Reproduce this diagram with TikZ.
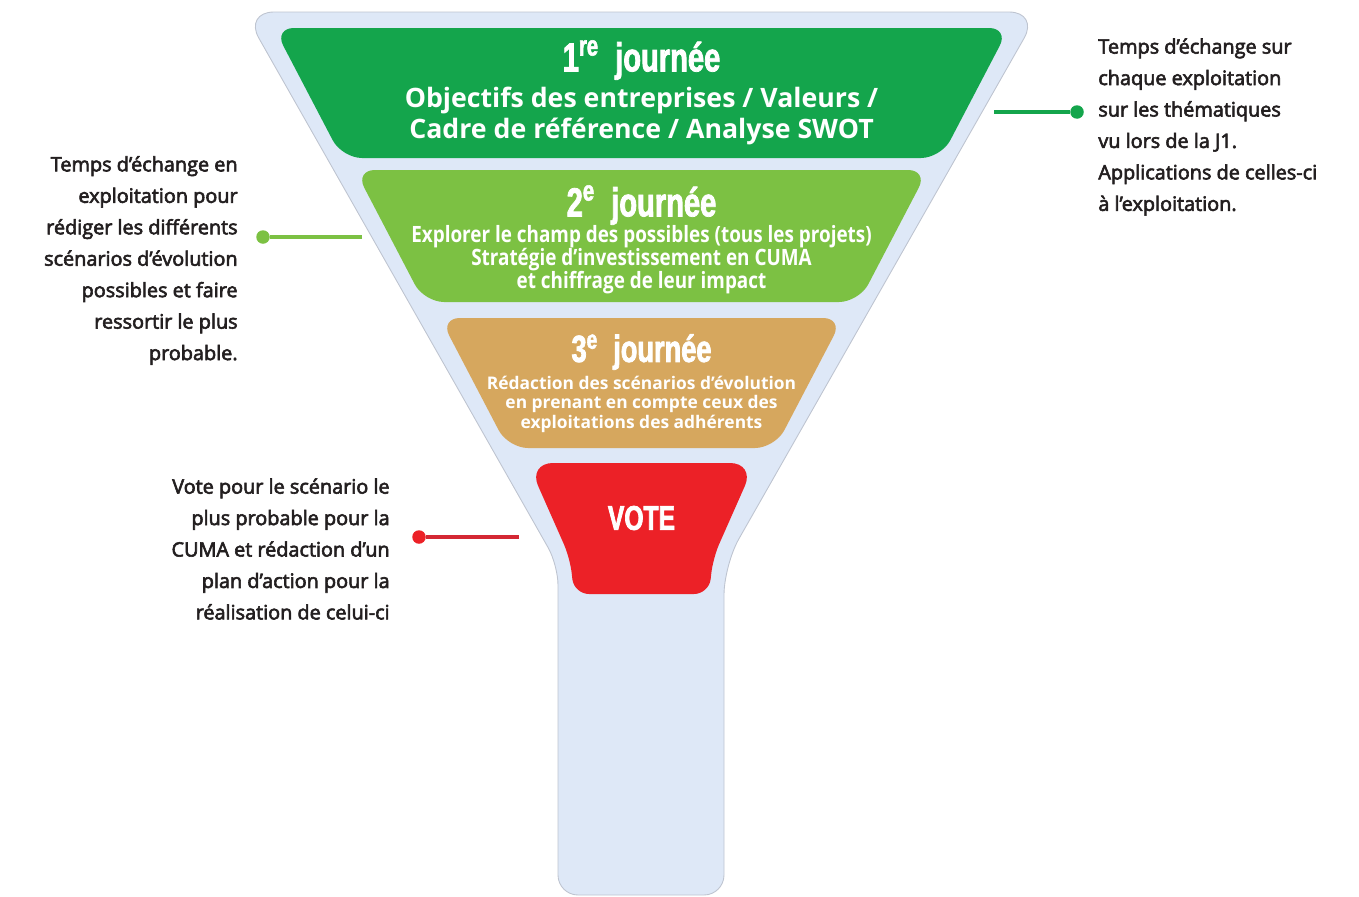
\documentclass[tikz,border=0pt]{standalone}
\usepackage{fontspec}
\setmainfont{Open Sans}
\newfontfamily\titlefont{Liberation Sans}[FakeStretch=0.72,FakeBold=2]
\newfontfamily\narrowfont{Open Sans}[FakeStretch=0.84]
\newfontfamily\sidefont{Open Sans}[FakeBold=3]
\definecolor{funnel}{RGB}{222,232,247}
\definecolor{rim}{RGB}{190,196,208}
\definecolor{dayone}{RGB}{20,165,76}
\definecolor{daytwo}{RGB}{124,193,67}
\definecolor{daythree}{RGB}{214,167,94}
\definecolor{votered}{RGB}{236,33,39}
\definecolor{redline}{RGB}{212,40,52}
\definecolor{ink}{RGB}{35,31,32}

\begin{document}
\begin{tikzpicture}
[x=0.02cm,y=-0.02cm,
 txt/.style={inner sep=0pt},
 side/.style={inner sep=0pt,text=ink,font=\sidefont\fontsize{11.3}{17.9}\selectfont},
 dot/.style={circle,inner sep=0pt,minimum size=0.27cm},
 lnk/.style={line width=2.1pt}]
\useasboundingbox (0,0) rectangle (1359,896);

\draw[fill=funnel,draw=rim,line width=0.5pt,rounded corners=0.6cm] (244,12) -- (1039,12) -- (724,565) [rounded corners=0.4cm] -- (724,895) -- (558,895) -- (558,565) [rounded corners=0.6cm] -- cycle;

\fill[dayone,rounded corners=0.4cm] (274,28) -- (1009,28) -- (941,158) -- (342,158) -- cycle;
\fill[daytwo,rounded corners=0.4cm] (355,170) -- (928,170) -- (859,302) -- (424,302) -- cycle;
\fill[daythree,rounded corners=0.4cm] (440,318) -- (843,318) -- (775,448) -- (508,448) -- cycle;
\fill[votered,rounded corners=0.5cm] (528,463) -- (755,463) [rounded corners=0.3cm] -- (713,558) -- (709,594) -- (574,594) -- (570,558) [rounded corners=0.5cm] -- cycle;

\node[txt,text=white,font=\titlefont\bfseries\fontsize{23}{23}\selectfont] (t1) at (641.5,60) {1\textsuperscript{re}\ \ journée};
\node[txt,text=white,align=center,font=\bfseries\fontsize{15.2}{17.6}\selectfont] (d1) at (641.5,116) {Objectifs des entreprises / Valeurs /\\Cadre de référence / Analyse SWOT};

\node[txt,text=white,font=\titlefont\bfseries\fontsize{23}{23}\selectfont] (t2) at (641.5,205) {2\textsuperscript{e}\ \ journée};
\node[txt,text=white,align=center,font=\narrowfont\bfseries\fontsize{12.8}{13.1}\selectfont] (d2) at (641.5,260) {Explorer le champ des possibles (tous les projets)\\Stratégie d’investissement en CUMA\\et chiffrage de leur impact};

\node[txt,text=white,font=\titlefont\bfseries\fontsize{21.5}{21.5}\selectfont] (t3) at (641.5,352) {3\textsuperscript{e}\ \ journée};
\node[txt,text=white,align=center,font=\bfseries\fontsize{9.9}{11.1}\selectfont] (d3) at (641.5,404) {Rédaction des scénarios d’évolution\\en prenant en compte ceux des\\exploitations des adhérents};

\node[txt,text=white,font=\titlefont\bfseries\fontsize{19.5}{19.5}\selectfont] (vote) at (641.5,518) {VOTE};

\node[side,align=left,anchor=west] (n1) at (1098,127) {Temps d’échange sur\\chaque exploitation\\sur les thématiques\\vu lors de la J1.\\Applications de celles-ci\\à l’exploitation.};
\node[side,align=right,anchor=east] (n2) at (238,260.5) {Temps d’échange en\\exploitation pour\\rédiger les différents\\scénarios d’évolution\\possibles et faire\\ressortir le plus\\probable.};
\node[side,align=right,anchor=east] (n3) at (390,549) {Vote pour le scénario le\\plus probable pour la\\CUMA et rédaction d’un\\plan d’action pour la\\réalisation de celui-ci};

\coordinate (e1) at (994,112);
\coordinate (e2) at (362,237);
\coordinate (e3) at (519,537);
\node[dot,fill=dayone] (p1) at (1077,112) {};
\node[dot,fill=daytwo] (p2) at (263,237) {};
\node[dot,fill=votered] (p3) at (419,537) {};
\draw[lnk,draw=dayone] (e1) -- (p1);
\draw[lnk,draw=daytwo] (e2) -- (p2);
\draw[lnk,draw=redline] (e3) -- (p3);
\end{tikzpicture}
\end{document}
